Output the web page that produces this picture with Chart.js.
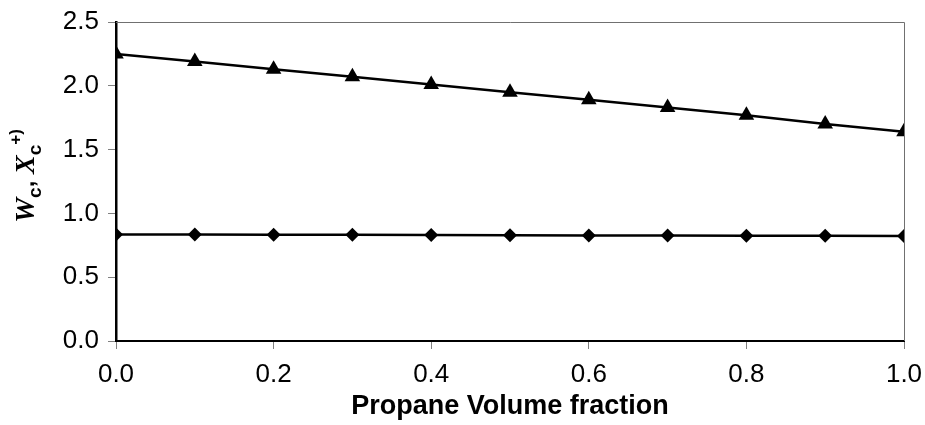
<!DOCTYPE html>
<html>
<head>
<meta charset="utf-8">
<script src="https://cdn.jsdelivr.net/npm/chart.js@4.4.0/dist/chart.umd.min.js"></script>
<style>
  html, body { margin: 0; padding: 0; background: #fff; }
  #wrap { width: 925px; height: 425px; }
</style>
</head>
<body>
<div id="wrap"><canvas id="chart" width="925" height="425"></canvas></div>
<script>
// propane volume fraction (x)
const fractions = [0.0, 0.1, 0.2, 0.3, 0.4, 0.5, 0.6, 0.7, 0.8, 0.9, 1.0];
// X_c+ (triangles)
const xcPlus = [2.25, 2.19, 2.13, 2.07, 2.01, 1.95, 1.89, 1.83, 1.77, 1.70, 1.64];
// W_c (diamonds)
const wc = [0.835, 0.834, 0.833, 0.832, 0.831, 0.828, 0.827, 0.826, 0.825, 0.824, 0.822];

const xTicks = [0.0, 0.2, 0.4, 0.6, 0.8, 1.0];
const yTicks = [0.0, 0.5, 1.0, 1.5, 2.0, 2.5];

const toPoints = (ys) => fractions.map((x, i) => ({ x: x, y: ys[i] }));

// y axis title with sub/superscripts, drawn by hand
const yTitlePlugin = {
    id: 'yTitle',
    afterDraw(chart) {
        const ctx = chart.ctx;
        const parts = [
            { t: 'W', font: 'italic bold 28px "Liberation Serif"', dy: 0 },
            { t: 'c', font: 'bold 19px "Liberation Sans"', dy: 7 },
            { t: ', ', font: 'bold 24px "Liberation Sans"', dy: 0 },
            { t: 'X', font: 'italic bold 28px "Liberation Serif"', dy: 0 },
            { t: 'c', font: 'bold 19px "Liberation Sans"', dy: 7 },
            { t: '+)', font: 'bold 17px "Liberation Sans"', dy: -13 }
        ];
        ctx.save();
        let total = 0;
        parts.forEach(p => { ctx.font = p.font; p.w = ctx.measureText(p.t).width; total += p.w; });
        ctx.translate(34, 176 + total / 2);
        ctx.rotate(-Math.PI / 2);
        ctx.fillStyle = '#000';
        ctx.textBaseline = 'alphabetic';
        let x = 0;
        parts.forEach(p => {
            ctx.font = p.font;
            ctx.fillText(p.t, x, p.dy);
            x += p.w;
        });
        ctx.restore();
    }
};

// top and right edges of the plot area
const frameLines = {
    id: 'frameLines',
    beforeDatasetsDraw(chart) {
        const a = chart.chartArea;
        const ctx = chart.ctx;
        ctx.save();
        ctx.lineWidth = 1;
        ctx.strokeStyle = '#707070';
        ctx.beginPath();
        ctx.moveTo(a.left, a.top + 0.5);
        ctx.lineTo(a.right + 0.5, a.top + 0.5);
        ctx.lineTo(a.right + 0.5, a.bottom);
        ctx.stroke();
        ctx.restore();
    }
};

const ctx = document.getElementById('chart').getContext('2d');
const chart = new Chart(ctx, {
    type: 'line',
    data: {
        datasets: [{
            label: 'Xc+',
            data: toPoints(xcPlus),
            borderColor: '#000',
            backgroundColor: '#000',
            borderWidth: 2.5,
            pointStyle: 'triangle',
            pointRadius: 9,
            pointBorderWidth: 0,
            tension: 0
        }, {
            label: 'Wc',
            data: toPoints(wc),
            borderColor: '#000',
            backgroundColor: '#000',
            borderWidth: 2.5,
            pointStyle: 'rectRot',
            pointRadius: 7,
            pointBorderWidth: 0,
            tension: 0
        }]
    },
    options: {
        responsive: false,
        animation: false,
        layout: { padding: { top: 22, right: 21, left: 0, bottom: 0 } },
        plugins: {
            legend: { display: false },
            tooltip: { enabled: false }
        },
        scales: {
            x: {
                type: 'linear',
                min: 0,
                max: 1,
                afterBuildTicks: (s) => { s.ticks = xTicks.map(v => ({ value: v })); },
                afterFit: (s) => { s.height = 84; s.paddingLeft = 0; s.paddingRight = 0; },
                grid: { drawOnChartArea: false, tickLength: 8, tickColor: '#808080' },
                border: { color: '#000', width: 2 },
                ticks: {
                    color: '#000',
                    padding: 10,
                    font: { family: '"Liberation Sans"', size: 26 },
                    callback: (v) => v.toFixed(1)
                },
                title: {
                    display: true,
                    text: 'Propane Volume fraction',
                    color: '#000',
                    font: { family: '"Liberation Sans"', size: 27, weight: 'bold' },
                    padding: { top: 0, bottom: 2 }
                }
            },
            y: {
                min: 0,
                max: 2.5,
                afterBuildTicks: (s) => { s.ticks = yTicks.map(v => ({ value: v })); },
                afterFit: (s) => { s.width = 116; s.paddingTop = 0; s.paddingBottom = 0; },
                grid: { drawOnChartArea: false, tickLength: 8, tickColor: '#808080' },
                border: { color: '#000', width: 2.5 },
                ticks: {
                    color: '#000',
                    padding: 9,
                    font: { family: '"Liberation Sans"', size: 26 },
                    callback: (v) => v.toFixed(1)
                }
            }
        }
    },
    plugins: [frameLines, yTitlePlugin]
});
</script>
</body>
</html>
